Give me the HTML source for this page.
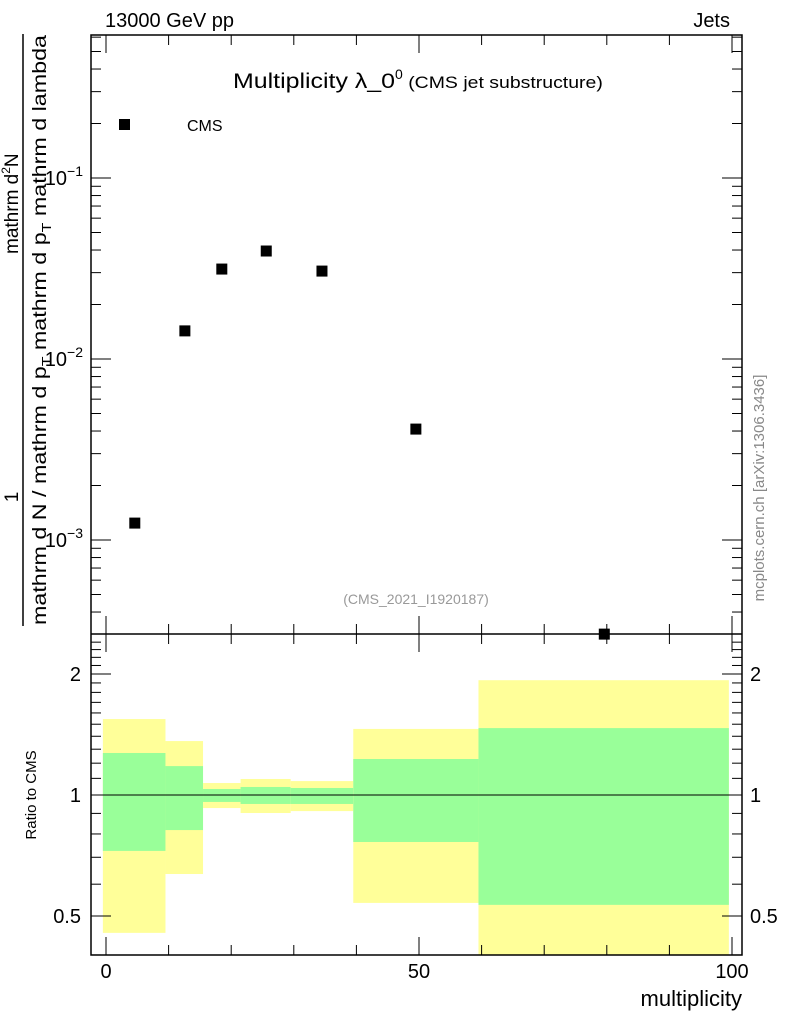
<!DOCTYPE html>
<html><head><meta charset="utf-8"><style>
body{margin:0;background:#fff;}
svg{display:block;font-family:"Liberation Sans",sans-serif;}
</style></head><body>
<svg id="chart" width="786" height="1024" viewBox="0 0 786 1024" xmlns="http://www.w3.org/2000/svg">
<g id="ratio-bands"></g>
<g id="axes"></g>
<g id="points"></g>
<text x="105" y="27" font-size="20">13000 GeV pp</text>
<text x="730" y="27" font-size="20" text-anchor="end">Jets</text>
<text x="233" y="88" font-size="21"><tspan textLength="162" lengthAdjust="spacingAndGlyphs">Multiplicity λ_0</tspan><tspan font-size="14" dy="-9">0</tspan><tspan font-size="17" dy="9" textLength="200" lengthAdjust="spacingAndGlyphs"> (CMS jet substructure)</tspan></text>
<rect x="119" y="119" width="11" height="11" fill="#000"/>
<text x="187" y="131" font-size="16">CMS</text>
<text x="416" y="604" font-size="14" fill="#999" text-anchor="middle">(CMS_2021_I1920187)</text>
<text transform="translate(764,488) rotate(-90)" font-size="15" fill="#888" text-anchor="middle">mcplots.cern.ch [arXiv:1306.3436]</text>
<g font-size="19">
<text transform="translate(18,497) rotate(-90)" text-anchor="middle">1</text>
<line x1="23" y1="626" x2="23" y2="34" stroke="#000" stroke-width="1.5"/>
<text transform="translate(46,625) rotate(-90)" textLength="590" lengthAdjust="spacingAndGlyphs">mathrm d N / mathrm d p<tspan font-size="13" dy="5">T</tspan><tspan dy="-5"> mathrm d p</tspan><tspan font-size="13" dy="5">T</tspan><tspan dy="-5"> mathrm d lambda</tspan></text>
<text transform="translate(18,254) rotate(-90)">mathrm d<tspan font-size="12" dy="-8">2</tspan><tspan dy="8">N</tspan></text>
</g>
<text transform="translate(36,795) rotate(-90)" font-size="15" text-anchor="middle">Ratio to CMS</text>
<text x="742" y="1006" font-size="22" text-anchor="end">multiplicity</text>
</svg>
<script>
const pointX=[4.6,12.6,18.5,25.6,34.5,49.5,79.6];
const pointY=[0.00124,0.0143,0.0314,0.0395,0.0306,0.0041,0.000302];
const binEdges=[-0.5,9.5,15.5,21.5,29.5,39.5,59.5,99.5];
const yellowHi=[1.545,1.362,1.071,1.096,1.083,1.46,1.93];
const yellowLo=[0.454,0.636,0.928,0.902,0.912,0.539,0.38];
const greenHi=[1.272,1.18,1.035,1.047,1.041,1.229,1.467];
const greenLo=[0.726,0.818,0.961,0.95,0.95,0.764,0.533];
const NS="http://www.w3.org/2000/svg";
const L=91,R=742,T=35,MB=634,RB=955;
const sx=v=>106+(v)*6.26;
const sy=v=>178-(Math.log10(v)+1)*181;
const ry=v=>795-Math.log10(v)*402;
function mk(p,tag,a){const e=document.createElementNS(NS,tag);for(const k in a)e.setAttribute(k,a[k]);p.appendChild(e);return e;}
const bands=document.getElementById('ratio-bands');
for(let i=0;i<binEdges.length-1;i++){
 const x0=sx(binEdges[i]),x1=sx(binEdges[i+1]);
 const yh=Math.max(ry(yellowHi[i]),MB),yl=Math.min(ry(yellowLo[i]),RB);
 const y=mk(bands,'rect',{x:x0,y:yh,width:x1-x0,height:yl-yh,fill:'#ffff99'});
 
 
 const gh=ry(greenHi[i]),gl=ry(greenLo[i]);
 const g=mk(bands,'rect',{x:x0,y:gh,width:x1-x0,height:gl-gh,fill:'#99ff99'});
 
 
}
const ax=document.getElementById('axes');
const ln=(x1,y1,x2,y2,w)=>mk(ax,'line',{x1,y1,x2,y2,stroke:'#000','stroke-width':w||1});
mk(ax,'rect',{x:L,y:T,width:R-L,height:RB-T,fill:'none',stroke:'#000','stroke-width':1.5});
ln(L,MB,R,MB,1.5);
ln(L,ry(1),R,ry(1),1);
for(let v=0;v<=100;v+=10){const x=sx(v),len=v%50==0?18:10;
 ln(x,MB,x,MB-len);ln(x,T,x,T+len);ln(x,MB,x,MB+len);ln(x,RB,x,RB-len);}
[0,50,100].forEach(v=>{const t=mk(ax,'text',{x:sx(v),y:978,'font-size':20,'text-anchor':'middle'});t.textContent=v;
 
 });
for(let d=-4;d<=0;d++)for(let m=1;m<10;m++){const v=m*Math.pow(10,d),y=sy(v);if(y<T||y>MB)continue;
 const len=m==1?20:10;ln(L,y,L+len,y);ln(R,y,R-len,y);}
[-1,-2,-3].forEach(e=>{const t=mk(ax,'text',{x:83,y:sy(Math.pow(10,e))+7,'font-size':20,'text-anchor':'end'});
 t.innerHTML='10<tspan font-size="14" dy="-9">\u2212'+(-e)+'</tspan>';
 
 });
for(let v=0.4;v<=2.5;v+=0.1){const y=ry(v);if(y<MB||y>RB)continue;
 const major=Math.abs(v-1)<1e-6||Math.abs(v-2)<1e-6||Math.abs(v-0.5)<1e-6;const len=major?20:10;ln(L,y,L+len,y);ln(R,y,R-len,y);}
[[2,'2'],[1,'1'],[0.5,'0.5']].forEach(([v,s])=>{
 const t=mk(ax,'text',{x:81,y:ry(v)+7,'font-size':20,'text-anchor':'end'});t.textContent=s;
 
 
 const t2=mk(ax,'text',{x:750,y:ry(v)+7,'font-size':20});t2.textContent=s;
 
 });
const pts=document.getElementById('points');
for(let i=0;i<pointX.length;i++){const x=sx(pointX[i]),y=sy(pointY[i]);
 const r=mk(pts,'rect',{x:x-5.5,y:y-5.5,width:11,height:11,fill:'#000'});
 
 }
</script>
</body></html>
